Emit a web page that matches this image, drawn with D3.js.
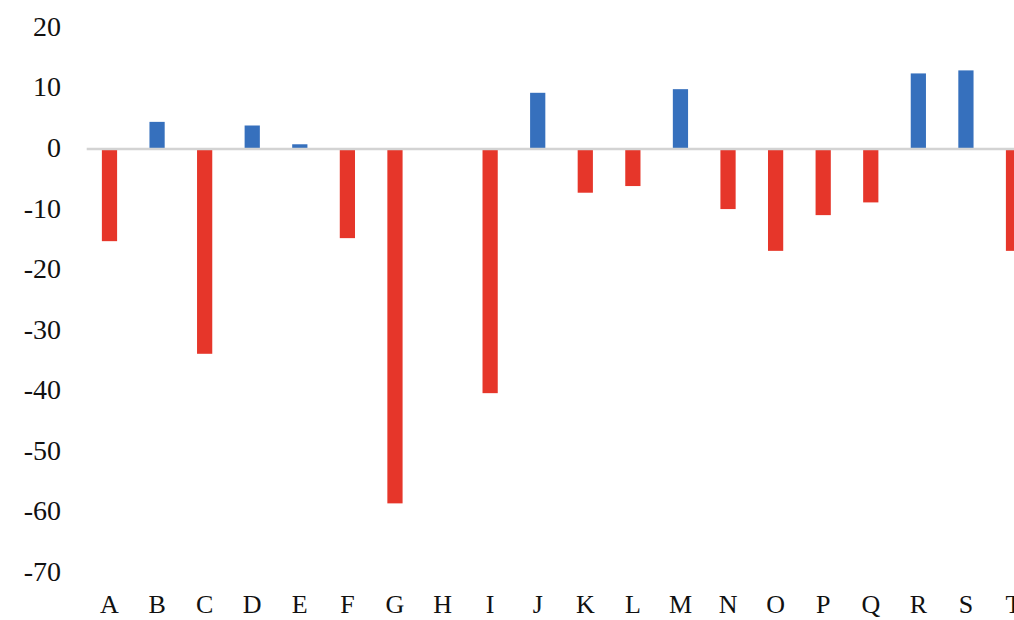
<!DOCTYPE html>
<html>
<head>
<meta charset="utf-8">
<script src="https://cdn.jsdelivr.net/npm/d3@7"></script>
<style>
  html, body { margin: 0; padding: 0; background: #fff; overflow: hidden; }
  svg { display: block; }
  .axis text { font-family: "Liberation Serif", "Times New Roman", serif; fill: #111; }
</style>
</head>
<body>
<svg id="chart" width="1014" height="620"></svg>
<script>
// Categories and their net change values
const categories = ["A","B","C","D","E","F","G","H","I","J","K","L","M","N","O","P","Q","R","S","T"];
const values = [-15.3, 4.4, -33.9, 3.8, 0.7, -14.8, -58.6, 0, -40.4, 9.2, -7.3, -6.2, 9.8, -10.0, -16.9, -11.0, -8.9, 12.4, 12.9, -16.9];
const yTicks = [20, 10, 0, -10, -20, -30, -40, -50, -60, -70];

const posColor = "#3670bd";
const negColor = "#e6362a";

const svg = d3.select("#chart");

const x = d3.scaleBand()
  .domain(categories)
  .range([85.7, 1037.3])
  .paddingInner(0.68)
  .paddingOuter(0.34);

const y = d3.scaleLinear()
  .domain([-70, 20])
  .range([572.4, 27.4]);

// Bars
svg.append("g")
  .selectAll("rect")
  .data(categories.map((c, i) => ({ c, v: values[i] })))
  .join("rect")
  .attr("x", d => x(d.c))
  .attr("width", x.bandwidth())
  .attr("y", d => y(Math.max(0, d.v)))
  .attr("height", d => Math.abs(y(d.v) - y(0)))
  .attr("fill", d => d.v >= 0 ? posColor : negColor);

// Zero baseline
svg.append("line")
  .attr("x1", x.range()[0] + 1)
  .attr("x2", x.range()[1])
  .attr("y1", y(0) + 0.5)
  .attr("y2", y(0) + 0.5)
  .attr("stroke", "#d3d3d3")
  .attr("stroke-width", 2.5);

// Y axis labels (plain hyphen for negatives)
const yAxis = svg.append("g")
  .attr("class", "axis")
  .attr("transform", "translate(61,0)")
  .call(d3.axisLeft(y).tickValues(yTicks).tickSize(0).tickPadding(0).tickFormat(d => String(d)));
yAxis.select(".domain").remove();
yAxis.selectAll("text").style("font-size", "28px").attr("dy", "8px");

// X axis labels
const xAxis = svg.append("g")
  .attr("class", "axis")
  .attr("transform", "translate(0,613)")
  .call(d3.axisBottom(x).tickSize(0).tickPadding(0));
xAxis.select(".domain").remove();
xAxis.selectAll("text").style("font-size", "26px").attr("dy", "0").attr("y", 0);
</script>
</body>
</html>
